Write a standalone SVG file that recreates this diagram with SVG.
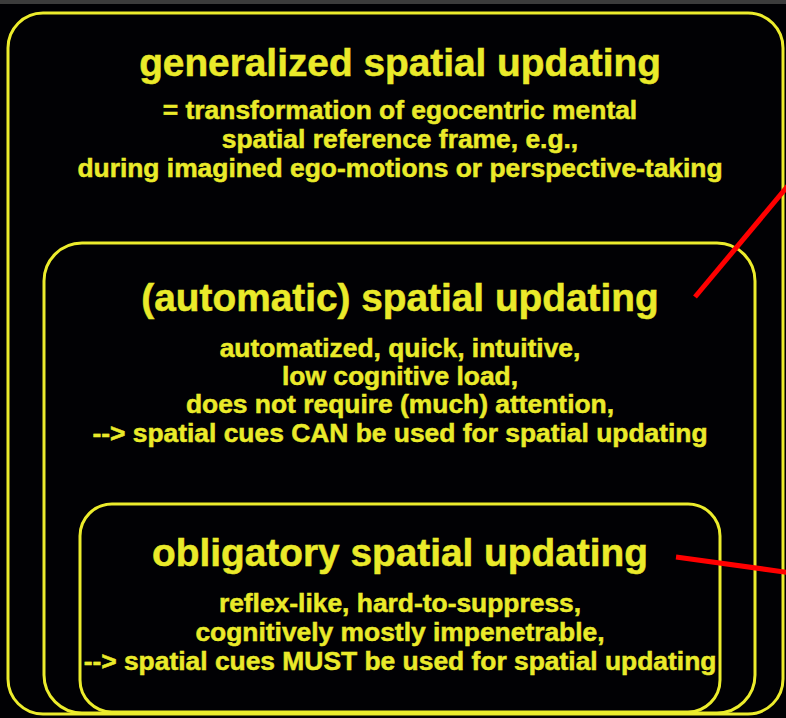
<svg xmlns="http://www.w3.org/2000/svg" width="786" height="718" viewBox="0 0 786 718">
<style>
.box{fill:none;stroke:#ecec2c;stroke-width:3}
.t{font-family:"Liberation Sans",Arial,sans-serif;font-weight:bold;fill:#eaea2a;stroke:#eaea2a;stroke-width:0.5;text-anchor:middle}
.h{font-size:38.8px}
.s{font-size:26.4px}
.red{stroke:#ff0000;stroke-width:5;fill:none}
</style>
<rect x="0" y="0" width="786" height="718" fill="#010104"/>
<rect x="0" y="0" width="786" height="4" fill="#3c3c3c"/>
<g id="generalized">
<rect class="box" x="8" y="13" width="775" height="701" rx="35" ry="35"/>
<text class="t h" x="400" y="76">generalized spatial updating</text>
<text class="t s" x="400" y="119">= transformation of egocentric mental</text>
<text class="t s" x="400" y="148">spatial reference frame, e.g.,</text>
<text class="t s" x="400" y="177">during imagined ego-motions or perspective-taking</text>
</g>
<g id="automatic">
<rect class="box" x="44" y="243" width="711" height="470" rx="38" ry="38"/>
<text class="t h" x="400" y="311">(automatic) spatial updating</text>
<text class="t s" x="400" y="357">automatized, quick, intuitive,</text>
<text class="t s" x="400" y="385">low cognitive load,</text>
<text class="t s" x="400" y="413">does not require (much) attention,</text>
<text class="t s" x="400" y="442">--&gt; spatial cues CAN be used for spatial updating</text>
</g>
<g id="obligatory">
<rect class="box" x="80" y="504" width="640" height="208" rx="32" ry="32"/>
<text class="t h" x="400" y="566">obligatory spatial updating</text>
<text class="t s" x="400" y="612">reflex-like, hard-to-suppress,</text>
<text class="t s" x="400" y="641">cognitively mostly impenetrable,</text>
<text class="t s" x="400" y="670">--&gt; spatial cues MUST be used for spatial updating</text>
</g>
<g id="connectors">
<line class="red" x1="695" y1="297" x2="792" y2="181"/>
<line class="red" x1="676" y1="557" x2="792" y2="573"/>
</g>
</svg>
